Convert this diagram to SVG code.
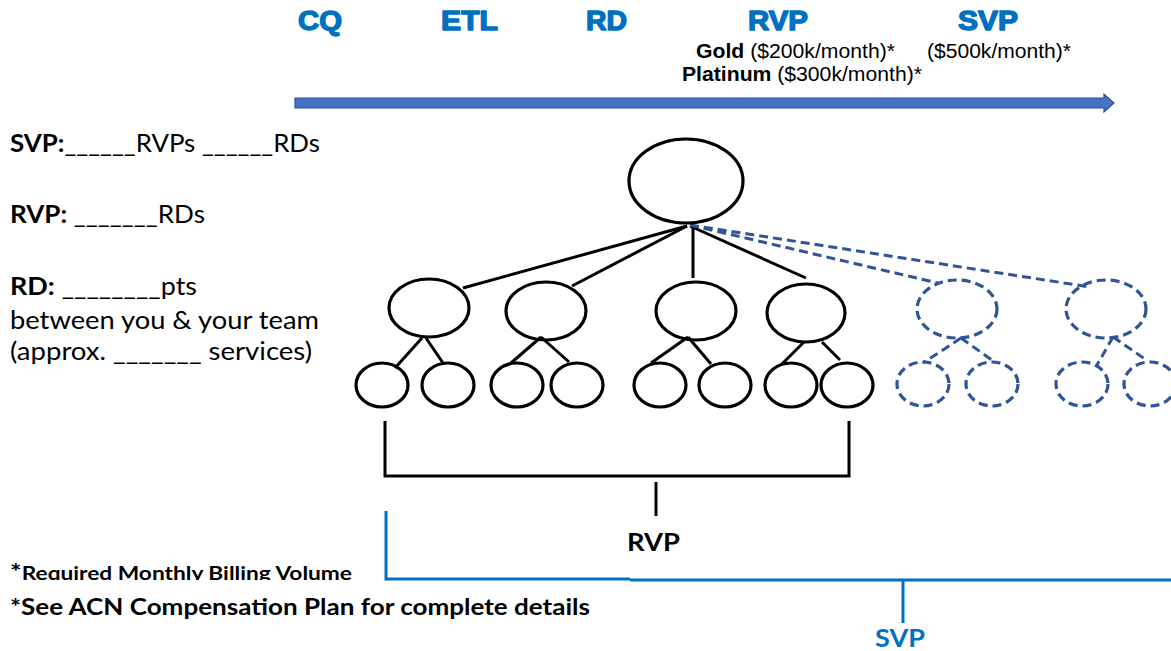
<svg xmlns="http://www.w3.org/2000/svg" width="1171" height="651" viewBox="0 0 1171 651">
<defs>
<style>
.top{font-family:"Liberation Sans",Arial,sans-serif;font-weight:bold;font-size:27px;fill:#0070C0;stroke:#0070C0;stroke-width:1.4;stroke-linejoin:round}
.sm{font-family:"Liberation Sans",Arial,sans-serif;font-size:19.5px;fill:#000}
.cal{font-family:Lato,"Liberation Sans",sans-serif;font-size:24.5px;fill:#000}
.b{font-weight:bold}
.node{fill:none;stroke:#000;stroke-width:3.2}
.dnode{fill:none;stroke:#2F5597;stroke-width:3.2;stroke-dasharray:9 5}
.ln{stroke:#000;stroke-width:3;fill:none}
.dln{stroke:#2F5597;stroke-width:3;fill:none;stroke-dasharray:9 5}
.bl{stroke:#0070C0;stroke-width:3;fill:none}
</style>
<clipPath id="clipfoot"><rect x="0" y="550" width="400" height="30"/></clipPath>
</defs>
<rect width="1171" height="651" fill="#fff"/>

<g id="timeline">
<text class="top" x="298" y="30" textLength="44" lengthAdjust="spacingAndGlyphs">CQ</text>
<text class="top" x="441" y="30" textLength="57" lengthAdjust="spacingAndGlyphs">ETL</text>
<text class="top" x="586" y="30" textLength="41" lengthAdjust="spacingAndGlyphs">RD</text>
<text class="top" x="748" y="30" textLength="60" lengthAdjust="spacingAndGlyphs">RVP</text>
<text class="top" x="958" y="30" textLength="60" lengthAdjust="spacingAndGlyphs">SVP</text>
<text class="sm" x="696" y="58" textLength="199" lengthAdjust="spacingAndGlyphs"><tspan class="b">Gold</tspan> ($200k/month)*</text>
<text class="sm" x="927" y="58" textLength="144" lengthAdjust="spacingAndGlyphs">($500k/month)*</text>
<text class="sm" x="682" y="81" textLength="240" lengthAdjust="spacingAndGlyphs"><tspan class="b">Platinum</tspan> ($300k/month)*</text>
<polygon points="295,98 1104,98 1104,94 1114,103 1104,112 1104,108 295,108" fill="#4472C4" stroke="#2F528F" stroke-width="1.2"/>
</g>

<g id="legend">
<text class="cal" x="10" y="152" textLength="310" lengthAdjust="spacingAndGlyphs"><tspan class="b">SVP:</tspan>______RVPs ______RDs</text>
<text class="cal" x="10" y="223" textLength="195" lengthAdjust="spacingAndGlyphs"><tspan class="b">RVP:</tspan> _______RDs</text>
<text class="cal" x="10" y="295" textLength="187" lengthAdjust="spacingAndGlyphs"><tspan class="b">RD:</tspan> ________pts</text>
<text class="cal" x="10" y="329" textLength="309" lengthAdjust="spacingAndGlyphs">between you &amp; your team</text>
<text class="cal" x="10" y="360" textLength="302" lengthAdjust="spacingAndGlyphs">(approx. _______ services)</text>
</g>

<g id="connectors">
<line class="ln" x1="687" y1="226" x2="463" y2="288"/>
<line class="ln" x1="687" y1="226" x2="572" y2="286"/>
<line class="ln" x1="693" y1="225" x2="693" y2="278"/>
<line class="ln" x1="690" y1="226" x2="806" y2="278"/>
<line class="dln" x1="690" y1="225" x2="938" y2="283"/>
<line class="dln" x1="690" y1="225" x2="1090" y2="287"/>
<line class="ln" x1="422" y1="338" x2="395" y2="368"/>
<line class="ln" x1="426" y1="338" x2="443" y2="363"/>
<line class="ln" x1="541" y1="337" x2="511" y2="363"/>
<line class="ln" x1="541" y1="337" x2="569" y2="362"/>
<line class="ln" x1="688" y1="337" x2="651" y2="363"/>
<line class="ln" x1="688" y1="337" x2="711" y2="364"/>
<line class="ln" x1="804" y1="342" x2="782" y2="364"/>
<line class="ln" x1="822" y1="342" x2="840" y2="360"/>
<line class="dln" x1="961" y1="338" x2="923" y2="363"/>
<line class="dln" x1="961" y1="338" x2="996" y2="363"/>
<line class="dln" x1="1113" y1="337" x2="1097" y2="365"/>
<line class="dln" x1="1113" y1="337" x2="1145" y2="359"/>
</g>

<g id="root"><ellipse class="node" cx="686" cy="181" rx="57" ry="42"/></g>
<g id="rd1"><ellipse class="node" cx="429" cy="308" rx="40" ry="29"/></g>
<g id="rd2"><ellipse class="node" cx="546" cy="311" rx="40" ry="29"/></g>
<g id="rd3"><ellipse class="node" cx="696" cy="311" rx="40" ry="29"/></g>
<g id="rd4"><ellipse class="node" cx="806" cy="313" rx="39" ry="29"/></g>
<g id="rd5"><ellipse class="dnode" cx="957" cy="309" rx="40" ry="29"/></g>
<g id="rd6"><ellipse class="dnode" cx="1106" cy="309" rx="40" ry="29"/></g>

<g id="p1"><ellipse class="node" cx="382" cy="385" rx="26" ry="22"/></g>
<g id="p2"><ellipse class="node" cx="448" cy="385" rx="26" ry="22"/></g>
<g id="p3"><ellipse class="node" cx="517" cy="385" rx="26" ry="22"/></g>
<g id="p4"><ellipse class="node" cx="577" cy="385" rx="26" ry="22"/></g>
<g id="p5"><ellipse class="node" cx="660" cy="385" rx="26" ry="22"/></g>
<g id="p6"><ellipse class="node" cx="725" cy="385" rx="26" ry="22"/></g>
<g id="p7"><ellipse class="node" cx="791" cy="385" rx="26" ry="22"/></g>
<g id="p8"><ellipse class="node" cx="847" cy="385" rx="26" ry="22"/></g>
<g id="p9"><ellipse class="dnode" cx="923" cy="384" rx="26" ry="22"/></g>
<g id="p10"><ellipse class="dnode" cx="992" cy="384" rx="26" ry="22"/></g>
<g id="p11"><ellipse class="dnode" cx="1082" cy="384" rx="26" ry="22"/></g>
<g id="p12"><ellipse class="dnode" cx="1150" cy="384" rx="26" ry="22"/></g>

<g id="rvp-bracket">
<polyline class="ln" points="385,421 385,476 849,476 849,421"/>
<line class="ln" x1="656" y1="482" x2="656" y2="516"/>
<text class="cal b" x="627" y="551" textLength="53" lengthAdjust="spacingAndGlyphs" style="font-size:25.5px">RVP</text>
</g>

<g id="svp-bracket">
<polyline class="bl" points="386,511 386,579 630,579"/>
<line class="bl" x1="630" y1="580" x2="1171" y2="580"/>
<line class="bl" x1="903" y1="580" x2="903" y2="623"/>
<text class="cal b" x="875" y="647" textLength="50" lengthAdjust="spacingAndGlyphs" style="fill:#0070C0;font-size:25.5px">SVP</text>
</g>

<g id="footnotes">
<text class="cal b" x="10" y="580" clip-path="url(#clipfoot)" textLength="342" lengthAdjust="spacingAndGlyphs"><tspan style="font-size:23px">*</tspan><tspan style="font-size:19px">Required Monthly Billing Volume</tspan></text>
<text class="cal b" x="10" y="615" textLength="580" lengthAdjust="spacingAndGlyphs" style="font-size:23px">*See ACN Compensation Plan for complete details</text>
</g>
</svg>
